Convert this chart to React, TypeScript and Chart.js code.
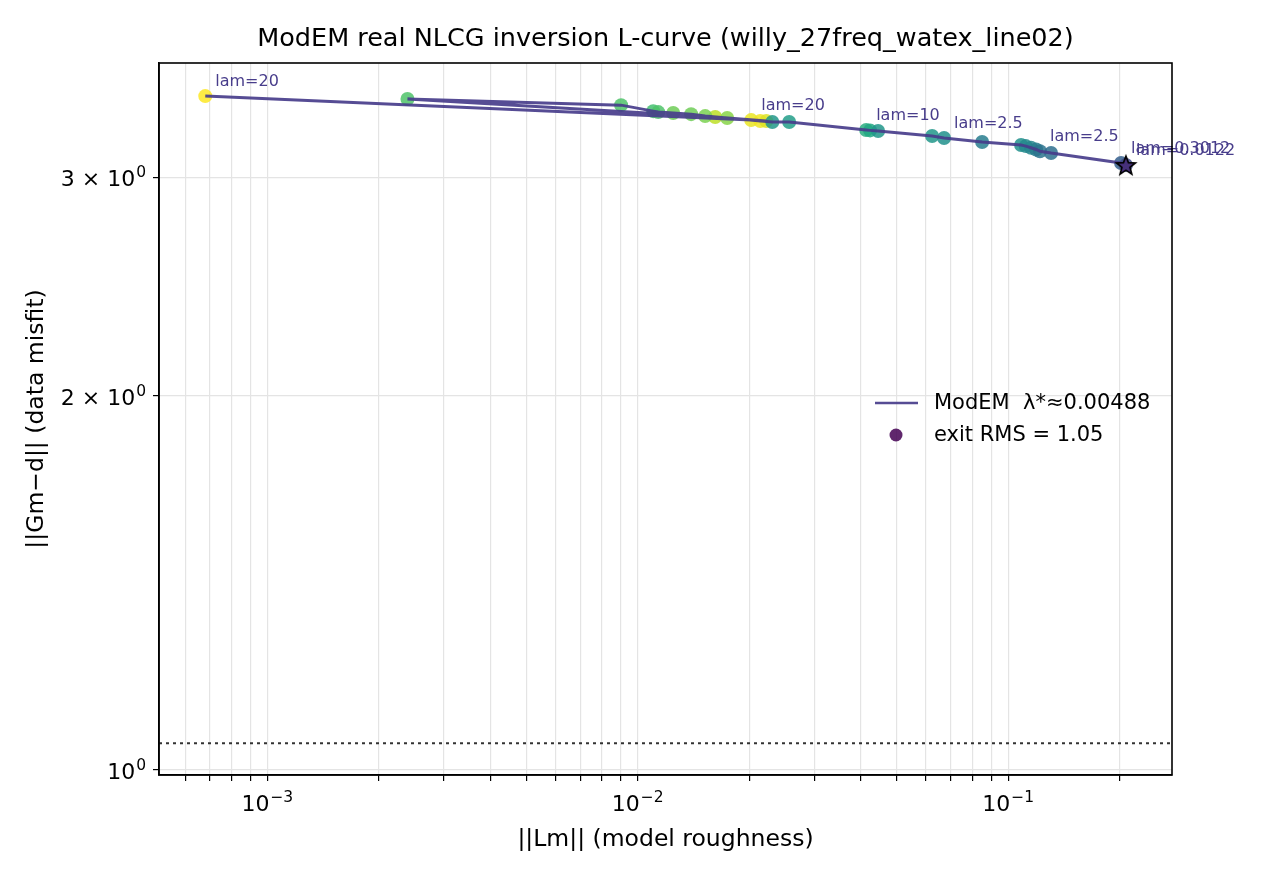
import React from "react";
import { Chart, registerables } from "chart.js";
import type { ChartConfiguration, Plugin } from "chart.js";

Chart.register(...registerables);

// NLCG iterations, in the order they were visited
const roughness = [
  6.8e-4, 0.02025, 0.02142, 0.02224, 0.01619, 0.00239, 0.00902, 0.01101,
  0.01136, 0.01247, 0.01394, 0.01521, 0.01744, 0.02309, 0.02564, 0.04138,
  0.0424, 0.04457, 0.06235, 0.06716, 0.0851, 0.1084, 0.1116, 0.1153, 0.119,
  0.1219, 0.1306, 0.2018, 0.208,
];
const misfit = [
  3.489, 3.337, 3.331, 3.331, 3.356, 3.47, 3.431, 3.393, 3.387, 3.381, 3.374,
  3.362, 3.35, 3.325, 3.325, 3.276, 3.274, 3.27, 3.24, 3.228, 3.204, 3.186,
  3.18, 3.17, 3.16, 3.15, 3.139, 3.082, 3.07,
];
// value fed to the viridis colour map (0..1)
const shade = [
  1.0, 0.97, 0.98, 0.95, 0.9, 0.72, 0.72, 0.7, 0.72, 0.78, 0.78, 0.8, 0.82,
  0.52, 0.55, 0.62, 0.6, 0.52, 0.52, 0.5, 0.42, 0.5, 0.47, 0.45, 0.42, 0.38,
  0.36, 0.3, 0.22,
];
const lamLabels = [
  "lam=20", "lam=20", "", "", "", "", "", "", "", "", "", "", "", "", "",
  "lam=10", "", "", "", "lam=2.5", "", "", "", "", "", "lam=2.5", "",
  "lam=0.3012", "lam=0.0122",
];

const exitRms = 1.05;
const lambdaStar = "0.00488";

// tick labels as [mantissa part, exponent]
const xMajorTicks = [1e-3, 1e-2, 1e-1];
const xTickLabels: [string, string][] = [["10", "−3"], ["10", "−2"], ["10", "−1"]];
const yTicks = [1, 2, 3];
const yTickLabels: [string, string][] = [["10", "0"], ["2 × 10", "0"], ["3 × 10", "0"]];

const X_MIN = 5.1e-4;
const X_MAX = 0.277;
const Y_MIN = 0.99;
const Y_MAX = 3.71;

const FONT = "DejaVu Sans";
const LINE_COLOR = "rgba(72,61,139,0.92)";
const TEXT_COLOR = "#483d8b";
const TITLE = "ModEM real NLCG inversion L-curve (willy_27freq_watex_line02)";

const VIRIDIS = [
  [68, 1, 84], [72, 36, 117], [65, 68, 135], [53, 95, 141], [42, 120, 142],
  [33, 145, 140], [34, 168, 132], [68, 191, 112], [122, 209, 81],
  [189, 223, 38], [253, 231, 37],
];

function viridis(t: number, alpha = 0.85) {
  const p = Math.min(Math.max(t, 0), 1) * (VIRIDIS.length - 1);
  const i = Math.min(Math.floor(p), VIRIDIS.length - 2);
  const f = p - i;
  const c = VIRIDIS[i].map((v, k) => Math.round(v + (VIRIDIS[i + 1][k] - v) * f));
  return `rgba(${c[0]},${c[1]},${c[2]},${alpha})`;
}

function xTicksAll() {
  const out: number[] = [];
  for (let e = -4; e <= 0; e++) {
    for (let m = 1; m <= 9; m++) {
      const v = m * Math.pow(10, e);
      if (v >= X_MIN && v <= X_MAX) out.push(v);
    }
  }
  return out;
}

function makeStar(r: number) {
  const c = document.createElement("canvas");
  const size = Math.ceil(r * 2 + 4);
  c.width = size;
  c.height = size;
  const ctx = c.getContext("2d")!;
  ctx.translate(size / 2, size / 2 + 1);
  ctx.beginPath();
  for (let i = 0; i < 10; i++) {
    const rad = i % 2 === 0 ? r : r * 0.42;
    const a = -Math.PI / 2 + (i * Math.PI) / 5;
    const px = rad * Math.cos(a);
    const py = rad * Math.sin(a);
    if (i === 0) ctx.moveTo(px, py);
    else ctx.lineTo(px, py);
  }
  ctx.closePath();
  ctx.fillStyle = "#46307a";
  ctx.fill();
  ctx.lineWidth = 1.6;
  ctx.strokeStyle = "#000";
  ctx.stroke();
  return c;
}

// draws "base" with a raised exponent, like matplotlib's mathtext
function drawPow(
  ctx: CanvasRenderingContext2D,
  base: string,
  exp: string,
  x: number,
  y: number,
  align: "center" | "right"
) {
  ctx.font = `22px "${FONT}"`;
  const wb = ctx.measureText(base).width;
  ctx.font = `15.5px "${FONT}"`;
  const we = ctx.measureText(exp).width;
  const total = wb + we + 1;
  const x0 = align === "center" ? x - total / 2 : x - total;
  ctx.textAlign = "left";
  ctx.textBaseline = "alphabetic";
  ctx.font = `22px "${FONT}"`;
  ctx.fillText(base, x0, y);
  ctx.font = `15.5px "${FONT}"`;
  ctx.fillText(exp, x0 + wb + 1, y - 9);
}

const decorations: Plugin<"scatter"> = {
  id: "decorations",
  beforeDatasetsDraw(chart) {
    const { ctx, chartArea, scales } = chart;
    const y = scales.y.getPixelForValue(exitRms);
    ctx.save();
    ctx.strokeStyle = "#333";
    ctx.lineWidth = 2;
    ctx.setLineDash([3, 4]);
    ctx.beginPath();
    ctx.moveTo(chartArea.left, y);
    ctx.lineTo(chartArea.right, y);
    ctx.stroke();
    ctx.restore();
  },
  afterDatasetsDraw(chart) {
    const { ctx, chartArea, scales } = chart;
    ctx.save();
    ctx.font = `16px "${FONT}"`;
    ctx.fillStyle = TEXT_COLOR;
    ctx.textBaseline = "alphabetic";
    lamLabels.forEach((t, i) => {
      if (!t) return;
      const px = scales.x.getPixelForValue(roughness[i]);
      const py = scales.y.getPixelForValue(misfit[i]);
      ctx.fillText(t, px + 10, py - 10);
    });

    // legend
    const lx = chartArea.left + 716;
    const ly = chartArea.top + 340;
    ctx.strokeStyle = LINE_COLOR;
    ctx.lineWidth = 2.5;
    ctx.beginPath();
    ctx.moveTo(lx, ly);
    ctx.lineTo(lx + 43, ly);
    ctx.stroke();
    ctx.fillStyle = "rgba(68,1,84,0.85)";
    ctx.beginPath();
    ctx.arc(lx + 21, ly + 32, 6.5, 0, Math.PI * 2);
    ctx.fill();
    ctx.fillStyle = "#000";
    ctx.font = `21px "${FONT}"`;
    ctx.textBaseline = "middle";
    ctx.fillText(`ModEM  λ*≈${lambdaStar}`, lx + 59, ly + 1);
    ctx.fillText(`exit RMS = ${exitRms.toFixed(2)}`, lx + 59, ly + 33);

    // frame
    ctx.strokeStyle = "#000";
    ctx.lineWidth = 1.6;
    ctx.strokeRect(
      chartArea.left,
      chartArea.top,
      chartArea.right - chartArea.left,
      chartArea.bottom - chartArea.top
    );
    ctx.restore();
  },
  afterDraw(chart) {
    const { ctx, chartArea, scales } = chart;
    ctx.save();
    ctx.fillStyle = "#000";
    // title centred over the plot area
    ctx.font = `25.5px "${FONT}"`;
    ctx.textAlign = "center";
    ctx.textBaseline = "middle";
    ctx.fillText(TITLE, (chartArea.left + chartArea.right) / 2, chartArea.top - 24);
    // tick labels
    xMajorTicks.forEach((v, i) => {
      const px = scales.x.getPixelForValue(v);
      drawPow(ctx, xTickLabels[i][0], xTickLabels[i][1], px, chartArea.bottom + 36, "center");
    });
    yTicks.forEach((v, i) => {
      const py = scales.y.getPixelForValue(v);
      drawPow(ctx, yTickLabels[i][0], yTickLabels[i][1], chartArea.left - 13, py + 9, "right");
    });
    ctx.restore();
  },
};

export default function App() {
  const canvasRef = React.useRef<HTMLCanvasElement>(null);

  React.useEffect(() => {
    if (!canvasRef.current) return;
    const pts = roughness.map((x, i) => ({ x, y: misfit[i] }));
    const last = pts.length - 1;
    const xTicks = xTicksAll();

    const config: ChartConfiguration<"scatter"> = {
      type: "scatter",
      data: {
        datasets: [
          {
            label: "iterations",
            data: pts,
            pointRadius: 7,
            pointHoverRadius: 7,
            borderWidth: 0,
            pointBackgroundColor: shade.map((s) => viridis(s)),
            order: 3,
          },
          {
            label: "ModEM",
            data: pts,
            showLine: true,
            borderColor: LINE_COLOR,
            borderWidth: 3,
            pointRadius: 0,
            order: 2,
          },
          {
            label: "exit",
            data: [pts[last]],
            pointStyle: makeStar(10),
            pointRadius: 10,
            order: 1,
          },
        ],
      },
      options: {
        animation: false,
        responsive: true,
        maintainAspectRatio: false,
        layout: { padding: { left: 0, right: 103, top: 63, bottom: 0 } },
        plugins: {
          legend: { display: false },
          tooltip: { enabled: false },
          title: { display: false },
        },
        scales: {
          x: {
            type: "logarithmic",
            min: X_MIN,
            max: X_MAX,
            bounds: "data",
            afterBuildTicks: (scale) => {
              scale.ticks = xTicks.map((v) => ({ value: v }));
            },
            afterFit: (scale) => {
              scale.height = 109;
            },
            ticks: {
              autoSkip: false,
              maxRotation: 0,
              callback: () => "",
            },
            grid: {
              color: "#e4e4e4",
              tickColor: "#000",
              tickLength: 6,
              lineWidth: 1.2,
            },
            border: { display: true, color: "#000", width: 1.6 },
            title: {
              display: true,
              text: "||Lm|| (model roughness)",
              color: "#000",
              font: { family: FONT, size: 23.5, lineHeight: 1.2 },
              padding: { top: 0, bottom: 30 },
            },
          },
          y: {
            type: "logarithmic",
            min: Y_MIN,
            max: Y_MAX,
            bounds: "data",
            afterBuildTicks: (scale) => {
              scale.ticks = yTicks.map((v) => ({ value: v }));
            },
            afterFit: (scale) => {
              scale.width = 159;
            },
            ticks: {
              autoSkip: false,
              callback: () => "",
            },
            grid: {
              color: "#e4e4e4",
              tickColor: "#000",
              tickLength: 6,
              lineWidth: 1.2,
            },
            border: { display: true, color: "#000", width: 1.6 },
            title: {
              display: true,
              text: "||Gm−d|| (data misfit)",
              color: "#000",
              font: { family: FONT, size: 23.5, lineHeight: 1.2 },
              padding: { top: 23, bottom: 0 },
            },
          },
        },
      },
      plugins: [decorations],
    };

    const chart = new Chart(canvasRef.current, config);
    return () => chart.destroy();
  }, []);

  return (
    <div
      style={{
        position: "fixed",
        left: 0,
        top: 0,
        width: 1275,
        height: 884,
        background: "#fff",
      }}
    >
      <canvas ref={canvasRef} />
    </div>
  );
}
